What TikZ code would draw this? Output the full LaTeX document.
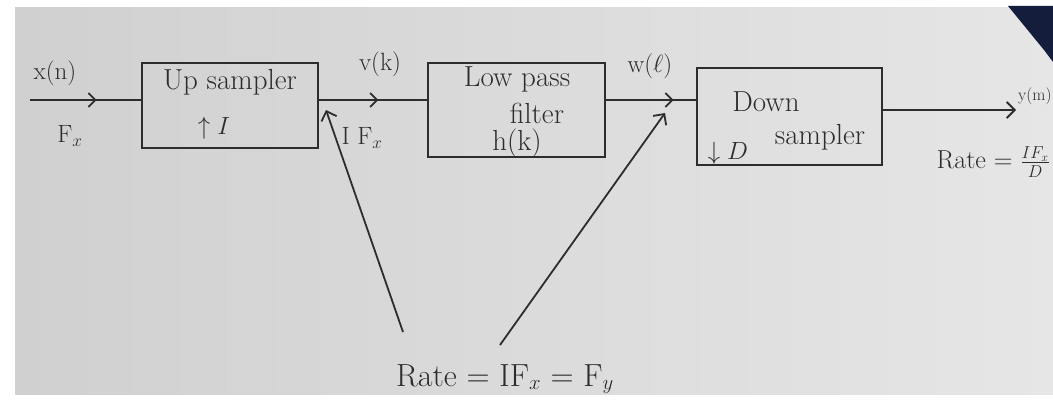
\documentclass[tikz,border=0pt]{standalone}
\usepackage{fontspec}
\usetikzlibrary{arrows.meta,decorations.markings}
\definecolor{ink}{RGB}{45,45,45}
\definecolor{paperL}{RGB}{208,208,208}
\definecolor{paperR}{RGB}{230,230,230}
\definecolor{navy}{RGB}{20,30,60}
\begin{document}
\begin{tikzpicture}[x=1pt,y=-1pt,
  blk/.style={draw=ink,line width=1.8pt,inner sep=0pt,align=center,text=ink},
  wire/.style={draw=ink,line width=1.8pt},
  midarrow/.style={postaction={decorate},decoration={markings,
     mark=at position #1 with {\arrow{Straight Barb[length=7pt,width=14pt,line width=1.8pt]}}}},
  tiparrow/.style={-{Straight Barb[length=8pt,width=16pt,line width=1.8pt]}},
  lbl/.style={text=ink,font=\fontsize{25}{29}\selectfont,inner sep=0pt},
  btxt/.style={text=ink,font=\fontsize{29}{33}\selectfont,inner sep=0pt}]
\useasboundingbox (0,0) rectangle (1053,403);
\clip (0,0) rectangle (1053,403);
\fill[white] (0,0) rectangle (1053,403);
\shade[left color=paperL,right color=paperR] (15,8) rectangle (1053,395);
\fill[navy] (1008,6) -- (1053,6) -- (1053,62) -- (1044,50) -- cycle;
% blocks
\node[blk,minimum width=176pt,minimum height=85pt] (up) at (230,105.5) {};
\node[btxt] (uptxt) at (230,82) {Up\ sampler};
\node[btxt,font=\fontsize{26}{30}\selectfont] (upI) at (214,128) {$\uparrow I$};
\node[blk,minimum width=177pt,minimum height=94pt] (lpf) at (516.5,110) {};
\node[btxt] (lpft1) at (517,79) {Low pass};
\node[btxt] (lpft2) at (537,113) {filter};
\node[btxt] (lpft3) at (517,143) {h(k)};
\node[blk,minimum width=185pt,minimum height=97pt] (down) at (789.5,116.5) {};
\node[btxt] (dnt1) at (766,102) {Down};
\node[btxt] (dnt2) at (820,137) {sampler};
\node[btxt,font=\fontsize{24}{28}\selectfont] (dnD) at (728,153) {$\downarrow D$};
% signal path
\coordinate (in) at (30,100);
\coordinate (out) at (1016,110);
\draw[wire,midarrow=0.6] (in) -- (up.west |- in);
\draw[wire,midarrow=0.55] (up.east |- in) -- (lpf.west |- in);
\draw[wire,midarrow=0.75] (lpf.east |- in) -- (down.west |- in);
\draw[wire,tiparrow] (down.east |- out) -- (out);
% labels
\node[lbl] (xn) at (55,73) {x(n)};
\node[lbl] (Fx) at (70,136) {F$_x$};
\node[lbl] (vk) at (380,64) {v(k)};
\node[lbl] (IFx) at (362,138) {I F$_x$};
\node[lbl] (wl) at (650,66) {w($\ell$)};
\node[lbl,font=\fontsize{17}{21}\selectfont,anchor=west] (ym) at (1018,96) {y(m)};
\node[lbl,font=\fontsize{26}{30}\selectfont,anchor=east] (rateD) at (1050,162) {Rate = $\frac{IF_x}{D}$};
\node[text=ink,font=\fontsize{32}{36}\selectfont,inner sep=0pt] (rate) at (505,379) {Rate = IF$_x$ = F$_y$};
% rate pointers
\coordinate (p1s) at (403,332);
\coordinate (p1e) at (326,110);
\coordinate (p2s) at (500,345);
\coordinate (p2e) at (665,113);
\draw[wire,tiparrow] (p1s) -- (p1e);
\draw[wire,tiparrow] (p2s) -- (p2e);
\end{tikzpicture}
\end{document}
